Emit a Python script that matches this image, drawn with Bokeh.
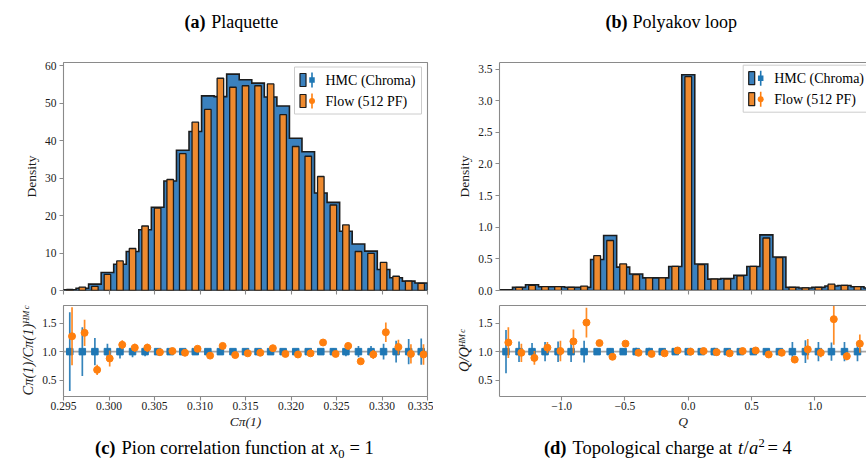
import numpy as np
from bokeh.plotting import figure
from bokeh.models import (Range1d, FixedTicker, CustomJSTickFormatter, Label,
                          BoxAnnotation, Span, LinearAxis, CustomLabelingPolicy)
from bokeh.layouts import column, row
from bokeh.embed import file_html
from bokeh.resources import INLINE

# ---------------------------------------------------------------- data
N_BINS = 29
plaq_lo, plaq_hi = 0.295, 0.335
poly_lo, poly_hi = -1.49, 1.49

plaq_hmc_density = [0.2, 0.6, 1.7, 4.8, 7.0, 10.4, 16.2, 22.2, 29.2, 37.4, 42.4, 51.9, 51.7,
                    57.7, 56.2, 55.3, 51.6, 49.2, 40.6, 37.0, 26.0, 23.5, 15.8, 12.4, 10.5,
                    5.6, 3.4, 2.5, 2.0]
plaq_flow_density = [0.3, 0.9, 1.1, 4.3, 7.9, 11.2, 17.2, 22.0, 29.6, 36.5, 44.9, 48.3, 56.6,
                     54.2, 54.6, 54.6, 55.1, 46.9, 38.4, 35.8, 30.4, 22.8, 17.5, 10.4, 9.9,
                     7.5, 3.8, 2.5, 1.9]
plaq_hmc_ratio = [1.0] * N_BINS
plaq_hmc_ratio_err = [0.69, 0.43, 0.24, 0.14, 0.12, 0.10, 0.08, 0.05, 0.05, 0.04, 0.04, 0.04,
                      0.03, 0.03, 0.03, 0.03, 0.03, 0.04, 0.04, 0.04, 0.05, 0.06, 0.08, 0.10,
                      0.10, 0.14, 0.19, 0.22, 0.23]
plaq_flow_ratio = [1.27, 1.33, 0.68, 0.88, 1.12, 1.07, 1.07, 0.99, 1.01, 0.98, 1.05, 0.93,
                   1.10, 0.94, 0.97, 0.98, 1.06, 0.96, 0.95, 0.97, 1.16, 0.96, 1.10, 0.83,
                   0.95, 1.34, 1.08, 0.96, 0.95]
plaq_flow_ratio_err = [0.51, 0.23, 0.09, 0.14, 0.08, 0.07, 0.07, 0.03, 0.03, 0.03, 0.03, 0.03,
                       0.03, 0.03, 0.02, 0.02, 0.02, 0.02, 0.02, 0.02, 0.05, 0.03, 0.06, 0.05,
                       0.08, 0.17, 0.13, 0.17, 0.18]

poly_hmc_density = [0.01, 0.05, 0.09, 0.06, 0.06, 0.05, 0.05, 0.49, 0.87, 0.37, 0.26, 0.20,
                    0.20, 0.38, 3.41, 0.42, 0.18, 0.19, 0.24, 0.38, 0.88, 0.53, 0.05, 0.04,
                    0.05, 0.07, 0.08, 0.06, 0.04]
poly_flow_density = [0.005, 0.05, 0.08, 0.06, 0.06, 0.05, 0.07, 0.55, 0.79, 0.42, 0.25, 0.20,
                     0.20, 0.38, 3.38, 0.41, 0.18, 0.18, 0.23, 0.38, 0.83, 0.52, 0.05, 0.04,
                     0.05, 0.10, 0.08, 0.06, 0.05]
poly_hmc_ratio = [1.0] * N_BINS
poly_hmc_ratio_err = [0.38, 0.18, 0.15, 0.17, 0.18, 0.18, 0.19, 0.05, 0.06, 0.05, 0.07, 0.07,
                      0.06, 0.04, 0.02, 0.04, 0.07, 0.06, 0.06, 0.05, 0.03, 0.05, 0.17, 0.20,
                      0.17, 0.16, 0.17, 0.17, 0.17]
poly_flow_ratio = [1.16, 0.98, 0.89, 1.07, 1.01, 1.18, 1.51, 1.15, 0.91, 1.14, 0.98, 0.96,
                   0.97, 1.02, 1.00, 1.01, 0.99, 0.97, 1.01, 1.02, 0.95, 0.98, 0.86, 1.04,
                   0.98, 1.57, 0.92, 1.14, 1.00]
poly_flow_ratio_err = [0.27, 0.16, 0.12, 0.10, 0.18, 0.21, 0.26, 0.03, 0.03, 0.04, 0.04, 0.05,
                       0.03, 0.02, 0.02, 0.03, 0.04, 0.04, 0.04, 0.03, 0.03, 0.03, 0.06, 0.18,
                       0.08, 0.45, 0.07, 0.16, 0.15]

plaq_xticks = [0.295, 0.300, 0.305, 0.310, 0.315, 0.320, 0.325, 0.330, 0.335]
plaq_yticks = [0, 10, 20, 30, 40, 50, 60]
poly_xticks = [-1.0, -0.5, 0.0, 0.5, 1.0]
poly_yticks = [0.0, 0.5, 1.0, 1.5, 2.0, 2.5, 3.0, 3.5]
ratio_yticks = [0.5, 1.0, 1.5]

series_labels = ["HMC (Chroma)", "Flow (512 PF)"]

# ---------------------------------------------------------------- style
SERIF = "Liberation Serif"
TEXT = "#1a1a1a"
FRAME = "#8a8a8a"
EDGE = "#1c1c1c"
BLUE_FILL = "#3b81be"
ORANGE_FILL = "#ee8a2f"
BLUE = "#1f77b4"
ORANGE = "#ff7f0e"
HAS_RADIUS = "border_radius" in BoxAnnotation.properties()


def fmt(code):
    return CustomJSTickFormatter(code=code)


def make_fig(w, h, xr, yr, borders, outline):
    l, r, t, b = borders
    p = figure(width=w, height=h, x_range=Range1d(*xr), y_range=Range1d(*yr),
               output_backend="svg", toolbar_location=None, tools="",
               min_border_left=l, min_border_right=r, min_border_top=t,
               min_border_bottom=b)
    p.xgrid.visible = False
    p.ygrid.visible = False
    p.background_fill_color = "white"
    p.border_fill_color = "white"
    p.outline_line_color = FRAME if outline else None
    p.outline_line_width = 1.1
    xa, ya = p.below[0], p.left[0]
    for ax in (xa, ya):
        ax.axis_line_color = None if outline else FRAME
        ax.axis_line_width = 1.1
        ax.major_tick_line_color = FRAME
        ax.major_tick_line_width = 1.1
        ax.major_tick_out = 4
        ax.major_tick_in = 0
        ax.minor_tick_line_color = None
        ax.major_label_text_font = SERIF
        ax.major_label_text_font_size = "11.5px"
        ax.major_label_text_color = TEXT
        ax.axis_label_text_font = SERIF
        ax.axis_label_text_font_size = "13.5px"
        ax.axis_label_text_font_style = "normal"
        ax.axis_label_text_color = TEXT
    ya.major_label_standoff = 3
    ya.axis_label_standoff = 3
    xa.major_label_standoff = 1
    xa.axis_label_standoff = 1
    if not outline:
        top = LinearAxis(ticker=FixedTicker(ticks=[]), axis_line_color=FRAME,
                         axis_line_width=1.1, major_tick_out=0, major_tick_in=0,
                         major_label_standoff=0, major_tick_line_color=None,
                         minor_tick_line_color=None)
        p.add_layout(top, "above")
    return p, xa, ya


def hide_x_labels(ax):
    ax.major_label_text_font_size = "1px"
    ax.major_label_standoff = 0
    ax.major_label_policy = CustomLabelingPolicy(code="return new Set();")


def hist_panel(p, edges, hmc, flow):
    xs = np.repeat(edges, 2)
    ys = np.concatenate([[0.0], np.repeat(np.asarray(hmc, float), 2), [0.0]])
    p.patch(xs, ys, fill_color=BLUE_FILL, line_color=EDGE, line_width=1.6,
            line_join="miter")
    centers = 0.5 * (edges[:-1] + edges[1:])
    binw = edges[1] - edges[0]
    p.vbar(x=centers, top=flow, bottom=0, width=0.52 * binw,
           fill_color=ORANGE_FILL, line_color=EDGE, line_width=1.3)


def ratio_panel(p, edges, hmc_ratio, hmc_err, flow_ratio, flow_err):
    centers = 0.5 * (edges[:-1] + edges[1:])
    binw = edges[1] - edges[0]
    p.add_layout(Span(location=1.0, dimension="width", line_color="#a5a5a5",
                      line_width=1.6, level="underlay"))
    hr = np.asarray(hmc_ratio, float)
    he = np.asarray(hmc_err, float)
    fr = np.asarray(flow_ratio, float)
    fe = np.asarray(flow_err, float)
    p.segment(centers, hr - he, centers, hr + he, line_color=BLUE, line_width=1.7,
              line_alpha=0.9)
    p.scatter(centers, hr, marker="square", size=6.5, fill_color=BLUE, line_color=BLUE)
    xo = centers + 0.18 * binw
    p.segment(xo, fr - fe, xo, fr + fe, line_color=ORANGE, line_width=1.7, line_alpha=0.9)
    p.scatter(xo, fr, marker="circle", size=7, fill_color=ORANGE, line_color=ORANGE)


# Label y (alphabetic baseline) comes out ~0.3 em lower than asked; compensate.
def add_text(p, text, x, y, size=18.0, style="normal", align="left", level="annotation"):
    p.add_layout(Label(x=x, y=y + 0.3 * size, x_units="screen", y_units="screen",
                       text=text, text_font=SERIF, text_font_size=f"{size}px",
                       text_font_style=style, text_color="black", text_align=align,
                       text_baseline="alphabetic", level=level))


def add_box(p, l, r, b, t, fill, line=None, lw=1.0, radius=None):
    kw = dict(left=l, right=r, bottom=b, top=t, left_units="screen",
              right_units="screen", bottom_units="screen", top_units="screen",
              fill_color=fill, fill_alpha=1.0 if fill is not None else 0.0,
              line_color=line, line_width=lw, line_alpha=1.0, line_dash="solid",
              level="overlay")
    if radius is not None and HAS_RADIUS:
        kw["border_radius"] = int(radius)
    p.add_layout(BoxAnnotation(**kw))


def add_legend(p, bx, by):
    """Legend box in screen pixels of the frame: (bx, by) = its lower-left corner."""
    add_box(p, bx, bx + 127, by, by + 47, None, line="#cccccc", lw=1.0)
    styles = [(BLUE_FILL, BLUE, None), (ORANGE_FILL, ORANGE, 3)]
    for k, (pfill, mcol, rad) in enumerate(styles):
        rc = by + 34 - 21 * k                  # row centre
        add_box(p, bx + 5.5, bx + 11.5, rc - 6.5, rc + 6.5, pfill, line=EDGE, lw=1.2)
        cx = bx + 17.5
        add_box(p, cx - 0.8, cx + 0.8, rc - 7.5, rc + 7.5, mcol)
        half = 2.75 if rad is None else 3.0
        add_box(p, cx - half, cx + half, rc - half, rc + half, mcol, radius=rad)
        add_text(p, series_labels[k], bx + 31, rc - 4.6, size=14, level="overlay")


def text_fig(h):
    p = figure(width=866, height=h, x_range=Range1d(0, 866), y_range=Range1d(0, h),
               output_backend="svg", toolbar_location=None, tools="",
               x_axis_location=None, y_axis_location=None,
               min_border_left=0, min_border_right=0, min_border_top=0,
               min_border_bottom=0)
    p.xgrid.visible = False
    p.ygrid.visible = False
    p.outline_line_color = None
    return p


plaq_edges = np.linspace(plaq_lo, plaq_hi, N_BINS + 1)
poly_edges = np.linspace(poly_lo, poly_hi, N_BINS + 1)
poly_view = (poly_lo, 1.407)

# ---------------------------------------------------------------- titles row (0..40)
titles = text_fig(40)
add_text(titles, "(a)", 205, 13.3, style="bold", align="right")
add_text(titles, "Plaquette", 210.7, 13.3)
add_text(titles, "(b)", 627, 13.3, style="bold", align="right")
add_text(titles, "Polyakov loop", 632, 13.3)

# ---------------------------------------------------------------- (a) plaquette
tl, tl_x, tl_y = make_fig(433, 258, (plaq_lo, plaq_hi), (0, 60.8), (63, 6, 22, 6), True)
hist_panel(tl, plaq_edges, plaq_hmc_density, plaq_flow_density)
tl_x.ticker = FixedTicker(ticks=plaq_xticks)
hide_x_labels(tl_x)
tl_y.ticker = FixedTicker(ticks=plaq_yticks)
tl_y.formatter = fmt("return tick.toFixed(0);")
tl_y.axis_label = "Density"
add_legend(tl, 231, 176.5)

# ---------------------------------------------------------------- (b) polyakov
tr, tr_x, tr_y = make_fig(433, 258, poly_view, (0, 3.604), (66, 0, 20, 6), False)
hist_panel(tr, poly_edges, poly_hmc_density, poly_flow_density)
tr_x.ticker = FixedTicker(ticks=poly_xticks)
hide_x_labels(tr_x)
tr_y.ticker = FixedTicker(ticks=poly_yticks)
tr_y.formatter = fmt("return tick.toFixed(1);")
tr_y.axis_label = "Density"
add_legend(tr, 243.7, 178.3)

# ---------------------------------------------------------------- (c) ratio plaquette
bl, bl_x, bl_y = make_fig(433, 134, (plaq_lo, plaq_hi), (0.212, 1.81), (63, 6, 7, 36), True)
ratio_panel(bl, plaq_edges, plaq_hmc_ratio, plaq_hmc_ratio_err,
            plaq_flow_ratio, plaq_flow_ratio_err)
bl_x.ticker = FixedTicker(ticks=plaq_xticks)
bl_x.formatter = fmt("return tick.toFixed(3);")
bl_y.ticker = FixedTicker(ticks=ratio_yticks)
bl_y.formatter = fmt("return tick.toFixed(1);")
bl_x.axis_label = "Cπ(1)"
bl_x.axis_label_text_font_style = "italic"
bl_y.axis_label = "Cπ(1)/Cπ(1)ᴴᴹᶜ"
bl_y.axis_label_text_font_style = "italic"
bl_y.axis_label_text_font_size = "14.5px"

# ---------------------------------------------------------------- (d) ratio topological charge
br, br_x, br_y = make_fig(433, 134, poly_view, (0.212, 1.81), (66, 0, 7, 36), False)
ratio_panel(br, poly_edges, poly_hmc_ratio, poly_hmc_ratio_err,
            poly_flow_ratio, poly_flow_ratio_err)
br_x.ticker = FixedTicker(ticks=poly_xticks)
br_x.formatter = fmt("return tick.toFixed(1).replace('-', '\\u2212');")
br_y.ticker = FixedTicker(ticks=ratio_yticks)
br_y.formatter = fmt("return tick.toFixed(1);")
br_x.axis_label = "Q"
br_x.axis_label_text_font_style = "italic"
br_y.axis_label = "Q/Qᴴᴹᶜ"
br_y.axis_label_text_font_style = "italic"
br_y.axis_label_text_font_size = "14.5px"

# ---------------------------------------------------------------- captions row (432..462)
caps = text_fig(30)
CB = 8.5      # caption baseline above the page bottom
CS = 18.5     # caption font size
add_text(caps, "(c)", 115, CB, size=CS, style="bold", align="right")
add_text(caps, "Pion correlation function at", 121, CB, size=CS)
add_text(caps, "x", 329.5, CB, size=CS, style="italic")
add_text(caps, "0", 337.8, CB - 3.5, size=12.5)
add_text(caps, "= 1", 349, CB, size=CS)
add_text(caps, "(d)", 566, CB, size=CS, style="bold", align="right")
add_text(caps, "Topological charge at", 572, CB, size=CS)
add_text(caps, "t", 737.5, CB, size=CS, style="italic")
add_text(caps, "/", 743, CB, size=CS)
add_text(caps, "a", 748.5, CB, size=CS, style="italic")
add_text(caps, "2", 758, CB + 7, size=12.5)
add_text(caps, "= 4", 767, CB, size=CS)

layout = column(titles, row(tl, tr), row(bl, br), caps)
open("out.html", "w").write(file_html(layout, INLINE))
